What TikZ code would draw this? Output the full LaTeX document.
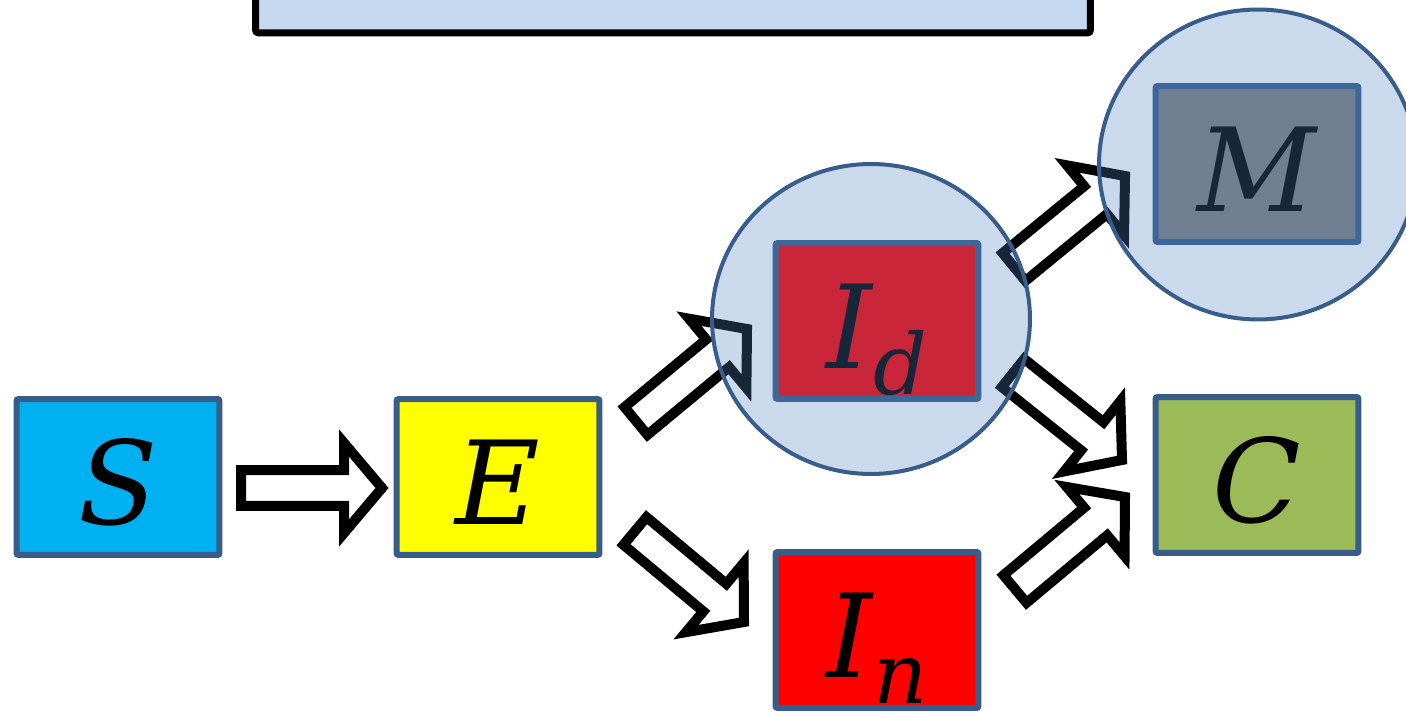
\documentclass[tikz,border=0pt]{standalone}
\usepackage{fontspec}
\usepackage{tikz}
\usetikzlibrary{shapes, arrows, positioning, calc}
\usetikzlibrary{arrows.meta}

\newfontfamily\lettfont{DejaVu Serif}

\definecolor{boxline}{HTML}{385D8A}
\definecolor{ringblue}{HTML}{4F81BD}
\definecolor{topfill}{HTML}{C6D9F1}
\definecolor{sfill}{HTML}{00B0F0}
\definecolor{efill}{HTML}{FFFF00}
\definecolor{ifill}{HTML}{FF0000}
\definecolor{mfill}{HTML}{7F7F7F}
\definecolor{cfill}{HTML}{9BBB59}

% block arrow sizes
\newcommand{\arrsw}{10.24pt}
\newcommand{\arrhw}{25.6pt}
\newcommand{\arrhd}{15.36pt}
\newcommand{\arrhl}{21.6}
% lowered index letter
\newcommand{\lowidx}[1]{\/\raisebox{-15pt}{\fontsize{48}{54}\selectfont #1}}

\begin{document}
\begin{tikzpicture}[
    x=0.02cm, y=-0.02cm,
    box/.style={rectangle, draw=boxline, line width=0.12cm, rounded corners=0.04cm, minimum width=4.06cm, minimum height=3.12cm, inner sep=0pt, text height=1.9cm, text depth=0cm, font=\lettfont\fontsize{66}{72}\selectfont\itshape},
    ring/.style={ellipse, draw=boxline, line width=0.08cm, fill=ringblue, fill opacity=0.3, draw opacity=1, minimum width=6.36cm, minimum height=6.2cm, inner sep=0pt},
    topbox/.style={rectangle, draw=black, line width=0.14cm, rounded corners=0.06cm, fill=topfill, minimum width=16.7cm, minimum height=1.86cm, inner sep=0pt},
    blockarrow/.style={draw=black, fill=white, line width=0.2cm, line join=miter,
        to path={let \p1=(\tikztostart), \p2=(\tikztotarget),
            \n1={atan2(\y2-\y1,\x2-\x1)}, \n2={veclen(\x2-\x1,\y2-\y1)-\arrhl} in
            ($(\p1)+(\n1+90:\arrsw)$) -- ++(\n1:\n2) -- ++(\n1+90:\arrhd) -- (\p2)
            -- ($(\p1)+(\n1:\n2)+(\n1-90:\arrhw)$) -- ++(\n1+90:\arrhd)
            -- ($(\p1)+(\n1-90:\arrsw)$) -- cycle}}
]
\useasboundingbox (0,0) rectangle (1406,712);
\clip (0,0) rectangle (1406,712);

\node[topbox] (top) at (673,-13.5) {};

% compartments
\node[box, fill=sfill] (S) at (118,477) {S};
\node[box, fill=efill] (E) at (498,477) {E};
\node[box, fill=ifill] (Id) at (877,321) {I\lowidx{d}};
\node[box, fill=ifill] (In) at (877,630) {I\lowidx{n}};
\node[box, fill=mfill] (M) at (1257,164) {M};
\node[box, fill=cfill] (C) at (1257,475) {C};

% arrow ends
\coordinate (se1) at (241,488);   \coordinate (se2) at (382,488);
\coordinate (ed1) at (636,421);   \coordinate (ed2) at (747,329);
\coordinate (en1) at (635,531);   \coordinate (en2) at (744,622);
\coordinate (dm1) at (1014,267);  \coordinate (dm2) at (1125,176);
\coordinate (dc1) at (1013,373);  \coordinate (dc2) at (1122,460);
\coordinate (nc1) at (1015,589);  \coordinate (nc2) at (1125,497);

\draw[blockarrow] (se1) to (se2);
\draw[blockarrow] (ed1) to (ed2);
\draw[blockarrow] (en1) to (en2);
\draw[blockarrow] (dm1) to (dm2);
\draw[blockarrow] (dc1) to (dc2);
\draw[blockarrow] (nc1) to (nc2);

% highlight rings
\node[ring] (ringd) at (871,319) {};
\node[ring] (ringm) at (1258,164.5) {};

\end{tikzpicture}
\end{document}
